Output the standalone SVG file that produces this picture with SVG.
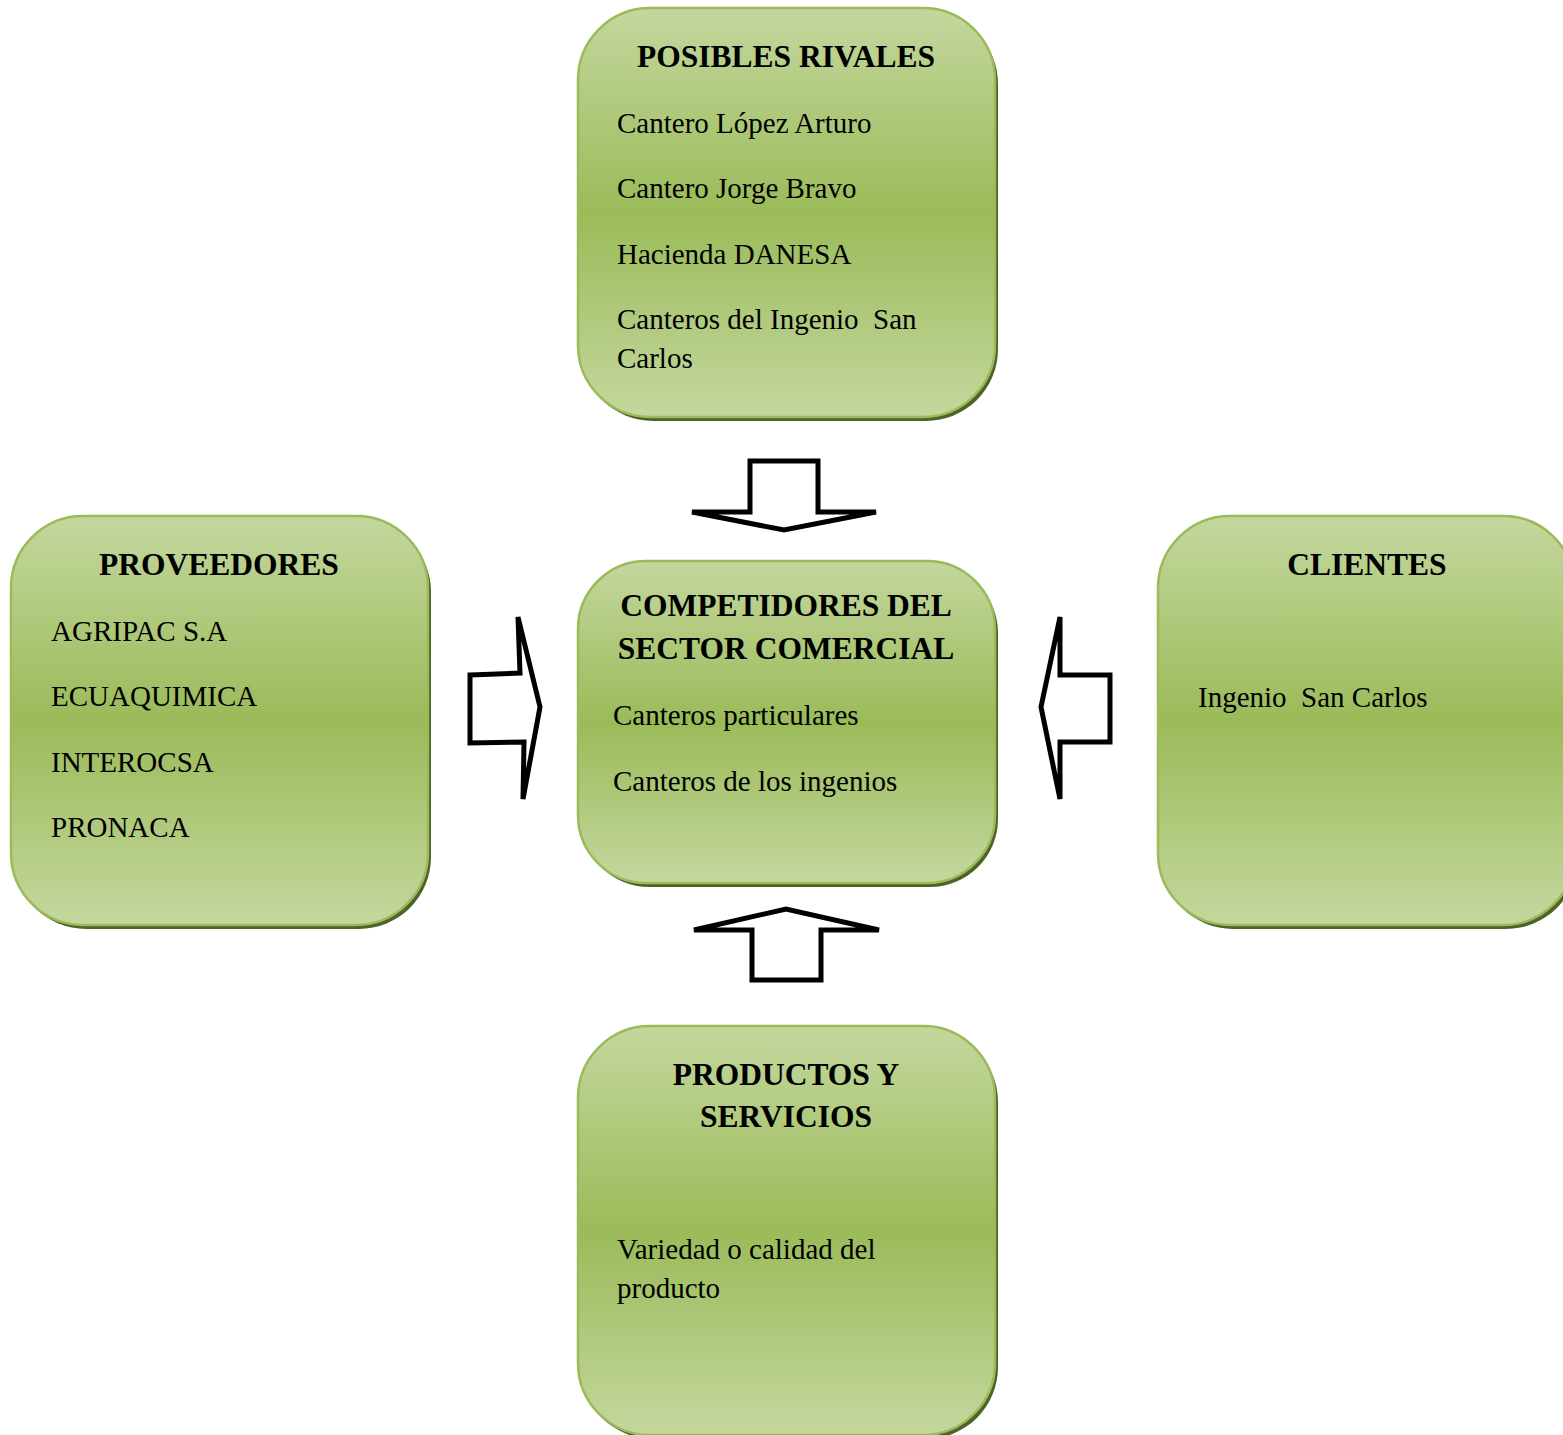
<svg xmlns="http://www.w3.org/2000/svg" width="1563" height="1435" viewBox="0 0 1563 1435">
<defs>
<linearGradient id="g" x1="0" y1="0" x2="0" y2="1">
<stop offset="0" stop-color="#c4d79e"/>
<stop offset="0.5" stop-color="#9bbb59"/>
<stop offset="1" stop-color="#c4d79e"/>
</linearGradient>
</defs>
<style>
.sh{fill:#4f6228}
.bx{fill:url(#g);stroke:#9bbb59;stroke-width:2.5}
.t{font-family:"Liberation Serif","Times New Roman",serif;font-weight:bold;font-size:31.5px;fill:#000;text-anchor:middle}
.b{font-family:"Liberation Serif","Times New Roman",serif;font-size:29px;fill:#000}
.ar{fill:#fff;stroke:#000;stroke-width:5;stroke-linejoin:miter;stroke-miterlimit:3}
</style>
<g id="posibles-rivales">
<rect class="sh" x="581" y="12" width="417" height="409" rx="72"/>
<rect class="bx" x="578" y="8" width="417" height="409" rx="72"/>
<text class="t" x="786" y="67">POSIBLES RIVALES</text>
<text class="b" x="617" y="133">Cantero López Arturo</text>
<text class="b" x="617" y="198">Cantero Jorge Bravo</text>
<text class="b" x="617" y="264">Hacienda DANESA</text>
<text class="b" x="617" y="329" xml:space="preserve">Canteros del Ingenio  San</text>
<text class="b" x="617" y="368">Carlos</text>
</g>
<g id="proveedores">
<rect class="sh" x="14" y="520" width="417" height="409" rx="72"/>
<rect class="bx" x="11" y="516" width="417" height="409" rx="72"/>
<text class="t" x="219" y="575">PROVEEDORES</text>
<text class="b" x="51" y="641">AGRIPAC S.A</text>
<text class="b" x="51" y="706">ECUAQUIMICA</text>
<text class="b" x="51" y="772">INTEROCSA</text>
<text class="b" x="51" y="837">PRONACA</text>
</g>
<g id="competidores">
<rect class="sh" x="581" y="565" width="417" height="322" rx="68"/>
<rect class="bx" x="578" y="561" width="417" height="322" rx="68"/>
<text class="t" x="786" y="616">COMPETIDORES DEL</text>
<text class="t" x="786" y="659">SECTOR COMERCIAL</text>
<text class="b" x="613" y="725">Canteros particulares</text>
<text class="b" x="613" y="791">Canteros de los ingenios</text>
</g>
<g id="clientes">
<rect class="sh" x="1161" y="520" width="417" height="409" rx="72"/>
<rect class="bx" x="1158" y="516" width="417" height="409" rx="72"/>
<text class="t" x="1367" y="575">CLIENTES</text>
<text class="b" x="1198" y="707" xml:space="preserve">Ingenio  San Carlos</text>
</g>
<g id="productos">
<rect class="sh" x="581" y="1030" width="417" height="409" rx="72"/>
<rect class="bx" x="578" y="1026" width="417" height="409" rx="72"/>
<text class="t" x="786" y="1085">PRODUCTOS Y</text>
<text class="t" x="786" y="1127">SERVICIOS</text>
<text class="b" x="617" y="1259">Variedad o calidad del</text>
<text class="b" x="617" y="1298">producto</text>
</g>
<g id="connectors">
<polygon class="ar" points="750,461 818,461 818,512 876,512 784,530 692,512 750,512"/>
<polygon class="ar" points="752,980 821,980 821,930 879,930 786,909 694,930 752,930"/>
<polygon class="ar" points="470,675 520,673 518,617 540,707 523,799 524,742 470,743"/>
<polygon class="ar" points="1110,675 1060,675 1060,617 1041,707 1060,799 1060,742 1110,742"/>
</g>
</svg>
